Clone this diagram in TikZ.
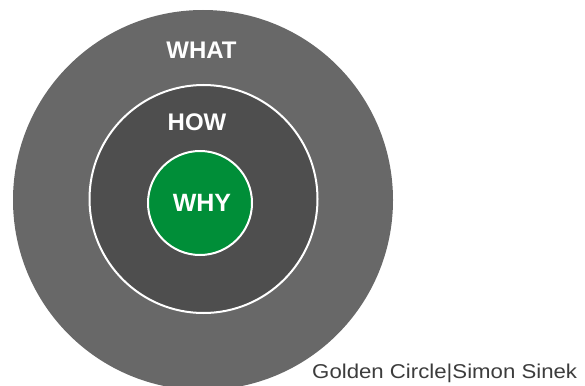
\documentclass[tikz,border=0pt]{standalone}
\usepackage{fontspec}
\setmainfont{Liberation Sans}
\usetikzlibrary{positioning}

\definecolor{whatgray}{RGB}{104,104,104}
\definecolor{howgray}{RGB}{78,78,78}
\definecolor{whygreen}{RGB}{0,142,56}
\definecolor{captiongray}{RGB}{60,60,60}

\tikzset{
  ring/.style={circle, inner sep=0pt, outer sep=0pt},
  word/.style={text=white, inner sep=0pt, font=\bfseries\fontsize{24}{24}\selectfont},
}

\begin{document}
\begin{tikzpicture}[x=1pt, y=-1pt]
  \useasboundingbox (0,0) rectangle (585,385);
  \clip (0,0) rectangle (585,385);

  % the three circles
  \node[ring, fill=whatgray, minimum size=380pt] (what) at (203,200) {};
  \node[ring, fill=howgray, draw=white, line width=2pt, minimum size=228pt] (how) at (203.5,199) {};
  \node[ring, fill=whygreen, draw=white, line width=2pt, minimum size=104pt] (why) at (200,203) {};

  % labels
  \node[word] (whatlbl) at (201.5,50.5) {WHAT};
  \node[word] (howlbl) at (197,122) {HOW};
  \node[word, font=\bfseries\fontsize{25}{25}\selectfont] (whylbl) at (202,202.5) {WHY};

  \node[anchor=base west, inner sep=0pt, text=captiongray, xscale=1.11,
        font=\fontsize{20}{20}\selectfont] (caption) at (312,378) {Golden Circle|Simon Sinek};
\end{tikzpicture}
\end{document}
